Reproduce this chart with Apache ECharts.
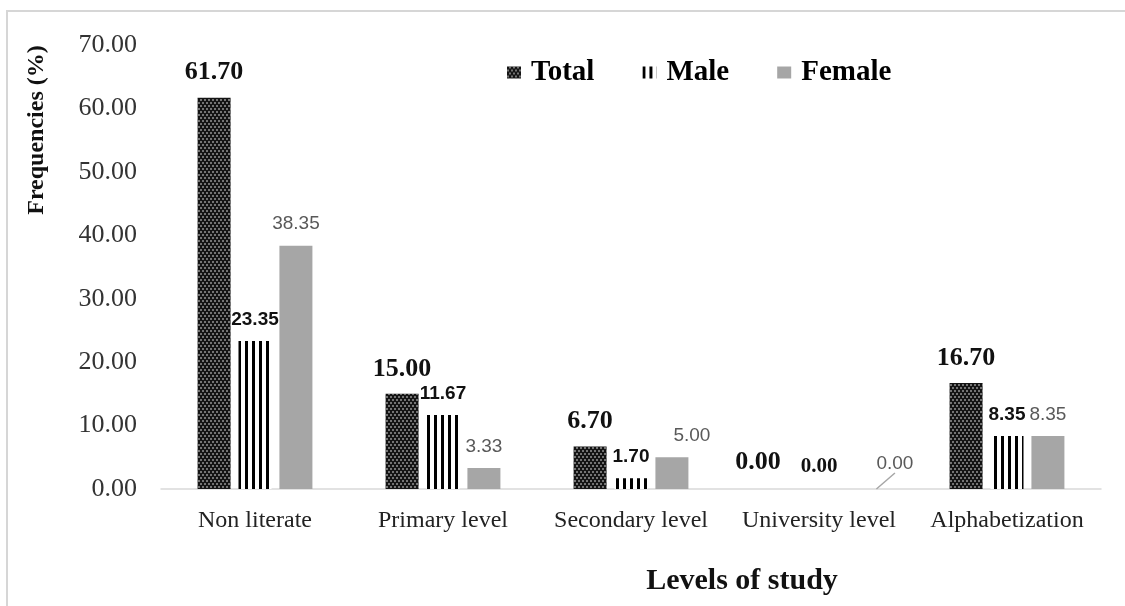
<!DOCTYPE html>
<html>
<head>
<meta charset="utf-8">
<title>Levels of study</title>
<script src="https://cdn.jsdelivr.net/npm/echarts@6/dist/echarts.min.js"></script>
<style>
  html, body { margin: 0; padding: 0; background: #fff; }
  #chart { width: 1125px; height: 606px; }
</style>
</head>
<body>
<div id="chart"></div>
<script>
// Study levels and frequencies (%) by group
const categories = ['Non literate', 'Primary level', 'Secondary level', 'University level', 'Alphabetization'];
const totalValues = [61.70, 15.00, 6.70, 0.00, 16.70];
const maleValues = [23.35, 11.67, 1.70, 0.00, 8.35];
const femaleValues = [38.35, 3.33, 5.00, 0.00, 8.35];
const yTicks = { min: 0, max: 70, step: 10 };

const SERIF = "'Liberation Serif', 'Times New Roman', serif";
const SANS = "'Liberation Sans', Arial, sans-serif";

const chart = echarts.init(document.getElementById('chart'), null, { renderer: 'canvas' });

const fmt = v => Number(v).toFixed(2);

// Total: dark knit texture; Male: vertical black stripes; Female: plain grey
const totalDecal = {
  symbol: 'circle',
  symbolSize: 1,
  color: 'rgba(255,255,255,0.55)',
  dashArrayX: [[2, 2], [0, 2, 2, 0]],
  dashArrayY: [2, 1],
  rotation: 0
};
const maleDecal = {
  symbol: 'rect',
  symbolSize: 1,
  color: '#000',
  dashArrayX: [3, 4],
  dashArrayY: [10, 0],
  rotation: 0
};

const totalData = totalValues.map((v, i) => {
  const item = { value: v };
  if (i === 3) item.label = { offset: [-20, -2] };
  return item;
});
const maleData = maleValues.map((v, i) => {
  const item = { value: v };
  if (i === 3) item.label = { fontFamily: SERIF, fontSize: 21 };
  return item;
});
const femaleData = femaleValues.map((v, i) => {
  const item = { value: v };
  if (i === 3) item.labelLine = { show: true };
  return item;
});

chart.setOption({
  backgroundColor: '#fff',
  animation: false,
  grid: { left: 161, right: 24, top: 45, bottom: 117 },
  legend: {
    left: 502,
    top: 53,
    icon: 'rect',
    itemWidth: 14,
    itemHeight: 12,
    itemGap: 48,
    textStyle: {
      fontFamily: SERIF, fontWeight: 'bold', fontSize: 29, color: '#000',
      padding: [0, 0, 0, 5]
    },
    data: ['Total', 'Male', 'Female']
  },
  xAxis: {
    type: 'category',
    data: categories,
    axisLine: { lineStyle: { color: '#d9d9d9', width: 1.5 } },
    axisTick: { show: false },
    axisLabel: { fontFamily: SERIF, fontSize: 24, color: '#222', margin: 20, interval: 0 }
  },
  yAxis: {
    type: 'value',
    min: yTicks.min,
    max: yTicks.max,
    interval: yTicks.step,
    axisLine: { show: false },
    axisTick: { show: false },
    splitLine: { show: false },
    axisLabel: { fontFamily: SERIF, fontSize: 26, color: '#333', margin: 24, formatter: fmt }
  },
  series: [
    {
      name: 'Total',
      type: 'bar',
      data: totalData,
      barWidth: 33,
      barGap: '24%',
      itemStyle: { color: '#141414', decal: totalDecal },
      label: {
        show: true, position: 'top', distance: 12, formatter: p => fmt(p.value),
        fontFamily: SERIF, fontWeight: 'bold', fontSize: 26, color: '#111'
      }
    },
    {
      name: 'Male',
      type: 'bar',
      data: maleData,
      barWidth: 33,
      barGap: '24%',
      itemStyle: { color: '#fff', decal: maleDecal },
      label: {
        show: true, position: 'top', distance: 12, formatter: p => fmt(p.value),
        fontFamily: SANS, fontWeight: 'bold', fontSize: 19, color: '#111'
      }
    },
    {
      name: 'Female',
      type: 'bar',
      data: femaleData,
      barWidth: 33,
      barGap: '24%',
      itemStyle: { color: '#a6a6a6' },
      label: {
        show: true, position: 'top', distance: 12, formatter: p => fmt(p.value),
        fontFamily: SANS, fontSize: 19, color: '#595959'
      },
      labelLine: { lineStyle: { color: '#a6a6a6', width: 1.5 } },
      labelLayout: p => {
        if (p.dataIndex === 3) return { dx: 35, dy: -4 };
        if (p.dataIndex === 2) return { dx: 20 };
        return {};
      }
    }
  ],
  graphic: [
    {
      type: 'rect',
      shape: { x: 7, y: 11, width: 1140, height: 620 },
      style: { fill: 'none', stroke: '#d6d6d6', lineWidth: 2 },
      silent: true
    },
    {
      type: 'text',
      x: 37, y: 130,
      rotation: Math.PI / 2,
      style: {
        text: 'Frequencies (%)',
        fontFamily: SERIF, fontWeight: 'bold', fontSize: 24, fill: '#111',
        align: 'center', verticalAlign: 'middle'
      }
    },
    {
      type: 'text',
      x: 742, y: 581,
      style: {
        text: 'Levels of study',
        fontFamily: SERIF, fontWeight: 'bold', fontSize: 30, fill: '#111',
        align: 'center', verticalAlign: 'middle'
      }
    }
  ]
});
</script>
</body>
</html>
